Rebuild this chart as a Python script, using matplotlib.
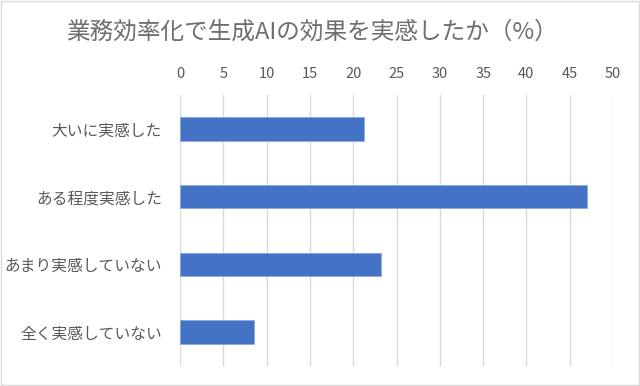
import matplotlib
matplotlib.use("Agg")
import matplotlib.pyplot as plt
from matplotlib.patches import Rectangle

plt.rcParams['font.family'] = ['Noto Sans CJK JP', 'DejaVu Sans']

# ── data ─────────────────────────────────────────────────────────────────────
categories = ["大いに実感した", "ある程度実感した", "あまり実感していない", "全く実感していない"]
values = [21.2, 47.0, 23.2, 8.6]
ticks = list(range(0, 55, 5))

TEXT = "#595959"
GRID = "#d9d9d9"
BAR = "#4472c4"

fig = plt.figure(figsize=(6.4, 3.86), dpi=100, facecolor="white")
ax = fig.add_axes([0.28125, 0.0518, 0.6766, 0.7021])

ypos = list(range(len(categories)))
ax.barh(ypos, values, height=0.35, color=BAR, edgecolor="#8faadc",
        linewidth=0.6, zorder=3)

ax.set_ylim(len(categories) - 0.5, -0.5)
ax.set_xlim(0, 50)
ax.set_yticks(ypos)
ax.set_yticklabels(categories, fontsize=11.3, color=TEXT)
ax.set_xticks(ticks)
ax.set_xticklabels([str(t) for t in ticks], fontsize=10.5, color=TEXT)
ax.xaxis.tick_top()
ax.tick_params(axis="x", length=0, pad=10)
ax.tick_params(axis="y", length=0, pad=13)
ax.grid(axis="x", color=GRID, linewidth=1.0, zorder=0)
for s in ax.spines.values():
    s.set_visible(False)

fig.text(0.488, 0.917, "業務効率化で生成AIの効果を実感したか（%）",
         ha="center", va="center", fontsize=17, color="#6e6e6e")

# chart-area border
fig.patches.append(Rectangle((0.001, 0.002), 0.997, 0.996, transform=fig.transFigure,
                             fill=False, edgecolor=GRID, linewidth=1.0))

fig.savefig("out.png", dpi=100)
